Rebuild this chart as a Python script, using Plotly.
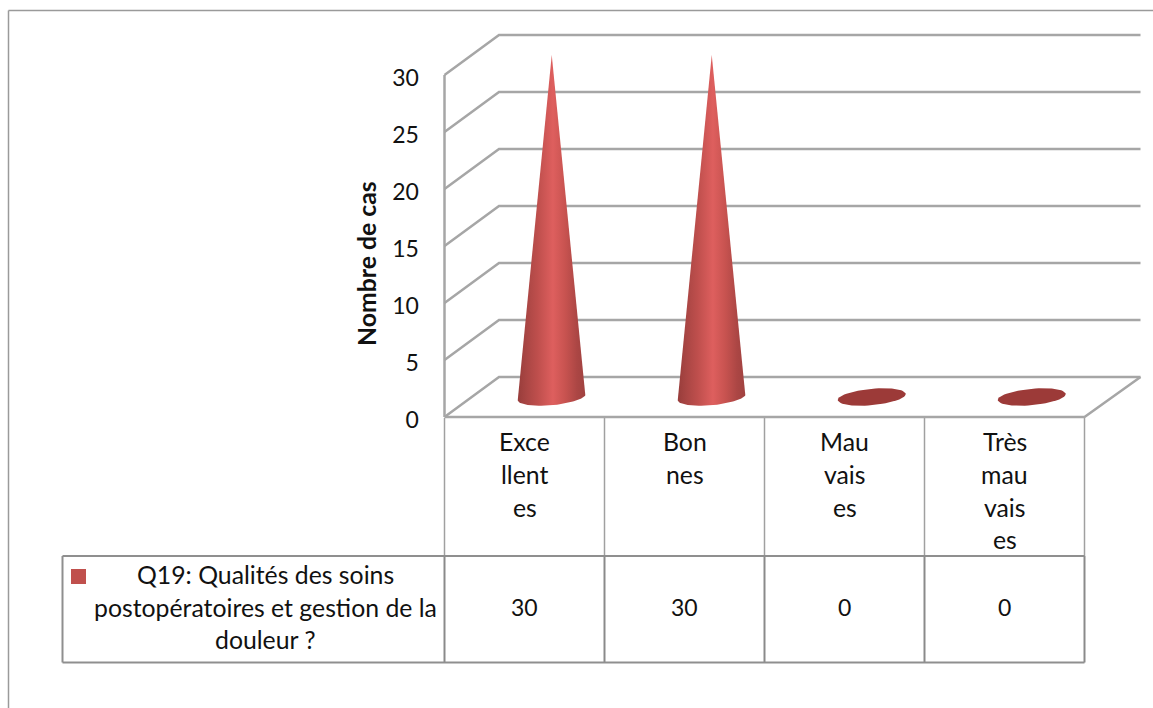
import numpy as np
import plotly.graph_objects as go

# ---- data ----
categories = ["Excellentes", "Bonnes", "Mauvaises", "Très mauvaises"]
category_lines = [["Exce", "llent", "es"], ["Bon", "nes"], ["Mau", "vais", "es"], ["Très", "mau", "vais", "es"]]
values = [30, 30, 0, 0]
series_lines = ["Q19: Qualités des soins", "postopératoires et gestion de la", "douleur ?"]
y_ticks = [0, 5, 10, 15, 20, 25, 30]
y_title = "Nombre de cas"

# ---- layout constants (pixels of the 1153x708 page) ----
W, H = 1153, 708
PX_X0, PX_PER_CAT = 444.5, 160.0     # pixel of left wall, pixels per category
PX_Y0, PX_PER_VAL = 417.0, 11.4      # pixel of value 0, pixels per value unit
FONT = "Lato"
TXT = "#111111"
GRID = "#a6a6a6"
TABLE = "#8f8f8f"
TEXT_SIZE = 24.8
DIGIT_SIZE = 23

x_range = [-0.5 - PX_X0 / PX_PER_CAT, -0.5 + (W - PX_X0) / PX_PER_CAT]
y_range = [(PX_Y0 - H) / PX_PER_VAL, PX_Y0 / PX_PER_VAL]
DX = 54.5 / PX_PER_CAT   # depth offset along x
DY = 40.0 / PX_PER_VAL   # depth offset along y
LEFT, RIGHT = -0.5, len(categories) - 0.5
RIGHT_BACK = RIGHT + 56 / PX_PER_CAT

fig = go.Figure()


def line(xs, ys, color=GRID, width=2.5):
    fig.add_trace(go.Scatter(x=xs, y=ys, mode="lines", line=dict(color=color, width=width),
                             hoverinfo="skip", showlegend=False))


# walls and gridlines
for v in y_ticks:
    line([LEFT, LEFT + DX, RIGHT_BACK], [v, v + DY, v + DY])
line([LEFT, LEFT], [0, max(y_ticks)])
line([LEFT, RIGHT, RIGHT_BACK], [0, 0, DY])

# cones
RX = 34 / PX_PER_CAT
RY = 8.2 / PX_PER_VAL
SHEAR = 3.0 / PX_PER_VAL
GRAD = [[0, "#983d3b"], [0.12, "#a84543"], [0.3, "#bf4f4d"], [0.52, "#de5f5e"],
        [0.7, "#c85350"], [0.88, "#ab4644"], [1, "#a04240"]]
for i, v in enumerate(values):
    cx = i + DX / 2
    cy = DY / 2
    if v > 0:
        t = np.linspace(0, np.pi, 41)
        xs = [cx] + list(cx + RX * np.cos(t)) + [cx]
        ys = [cy + v] + list(cy + SHEAR * np.cos(t) - RY * np.sin(t)) + [cy + v]
        fig.add_trace(go.Scatter(x=xs, y=ys, mode="lines", line=dict(width=0), fill="toself",
                                 fillgradient=dict(type="horizontal", colorscale=GRAD),
                                 hoverinfo="skip", showlegend=False, name=categories[i]))
    else:
        t = np.linspace(0, 2 * np.pi, 61)
        fig.add_trace(go.Scatter(x=cx + RX * np.cos(t), y=cy + SHEAR * np.cos(t) - RY * np.sin(t),
                                 mode="lines", line=dict(width=0), fill="toself", fillcolor="#9c3a38",
                                 hoverinfo="skip", showlegend=False, name=categories[i]))

fig.update_layout(
    width=W, height=H, margin=dict(l=0, r=0, t=0, b=0),
    paper_bgcolor="white", plot_bgcolor="white", showlegend=False,
    font=dict(family=FONT, size=TEXT_SIZE, color=TXT),
    xaxis=dict(range=x_range, visible=False, fixedrange=True),
    yaxis=dict(range=y_range, anchor="free", position=PX_X0 / W, tickvals=y_ticks,
               showgrid=False, zeroline=False, showline=False, ticks="outside", ticklen=21,
               ticklabelshift=3,
               tickcolor="rgba(0,0,0,0)", tickfont=dict(family=FONT, size=DIGIT_SIZE, color=TXT), fixedrange=True),
)


def px_y(p):
    return 1 - p / H


def px_x(p):
    return p / W


def paper_line(x0, y0, x1, y1, color=TABLE, width=2):
    fig.add_shape(type="line", xref="paper", yref="paper", x0=px_x(x0), y0=px_y(y0), x1=px_x(x1), y1=px_y(y1),
                  line=dict(color=color, width=width), layer="below")


def label(x, xref, p, text, size=TEXT_SIZE, **kw):
    fig.add_annotation(x=x, y=px_y(p), xref=xref, yref="paper", text=text, showarrow=False,
                       xanchor="center", yanchor="middle", font=dict(family=FONT, size=size, color=TXT), **kw)


# outer frame
paper_line(8.5, 10.5, 1153, 10.5, color="#9a9a9a", width=1.5)
paper_line(8.5, 10.5, 8.5, 708, color="#9a9a9a", width=1.5)

# data table
ROW_TOP, ROW_MID, ROW_BOT = 418, 556, 662.5
LEGEND_L = 62.5
edges = [PX_X0 + PX_PER_CAT * k for k in range(len(categories) + 1)]
for e in edges:
    paper_line(e, ROW_TOP, e, ROW_MID, color="#a0a0a0", width=1.5)
    paper_line(e, ROW_MID, e, ROW_BOT, color="#8a8a8a", width=2)
paper_line(LEGEND_L, ROW_MID, edges[-1], ROW_MID)
paper_line(LEGEND_L, ROW_BOT, edges[-1], ROW_BOT)
paper_line(LEGEND_L, ROW_MID, LEGEND_L, ROW_BOT)

LINE_Y = [441.5, 474.5, 507.5, 539.5]
for i, lines in enumerate(category_lines):
    for k, s in enumerate(lines):
        label(i, "x", LINE_Y[k], s)
for i, v in enumerate(values):
    label(i, "x", 607, str(v), size=DIGIT_SIZE)
for s, p in zip(series_lines, [574.5, 607.5, 639.5]):
    label(px_x(265), "paper", p, s)
# legend key
fig.add_shape(type="rect", xref="paper", yref="paper", x0=px_x(71), x1=px_x(86), y0=px_y(569), y1=px_y(584),
              fillcolor="#C0504D", line=dict(width=0))
label(px_x(366), "paper", 264, "<b>" + y_title + "</b>", textangle=-90)

fig.write_html("out.html", config=dict(displayModeBar=False),
               post_script="document.body.style.margin='0';document.documentElement.style.overflow='hidden';")
